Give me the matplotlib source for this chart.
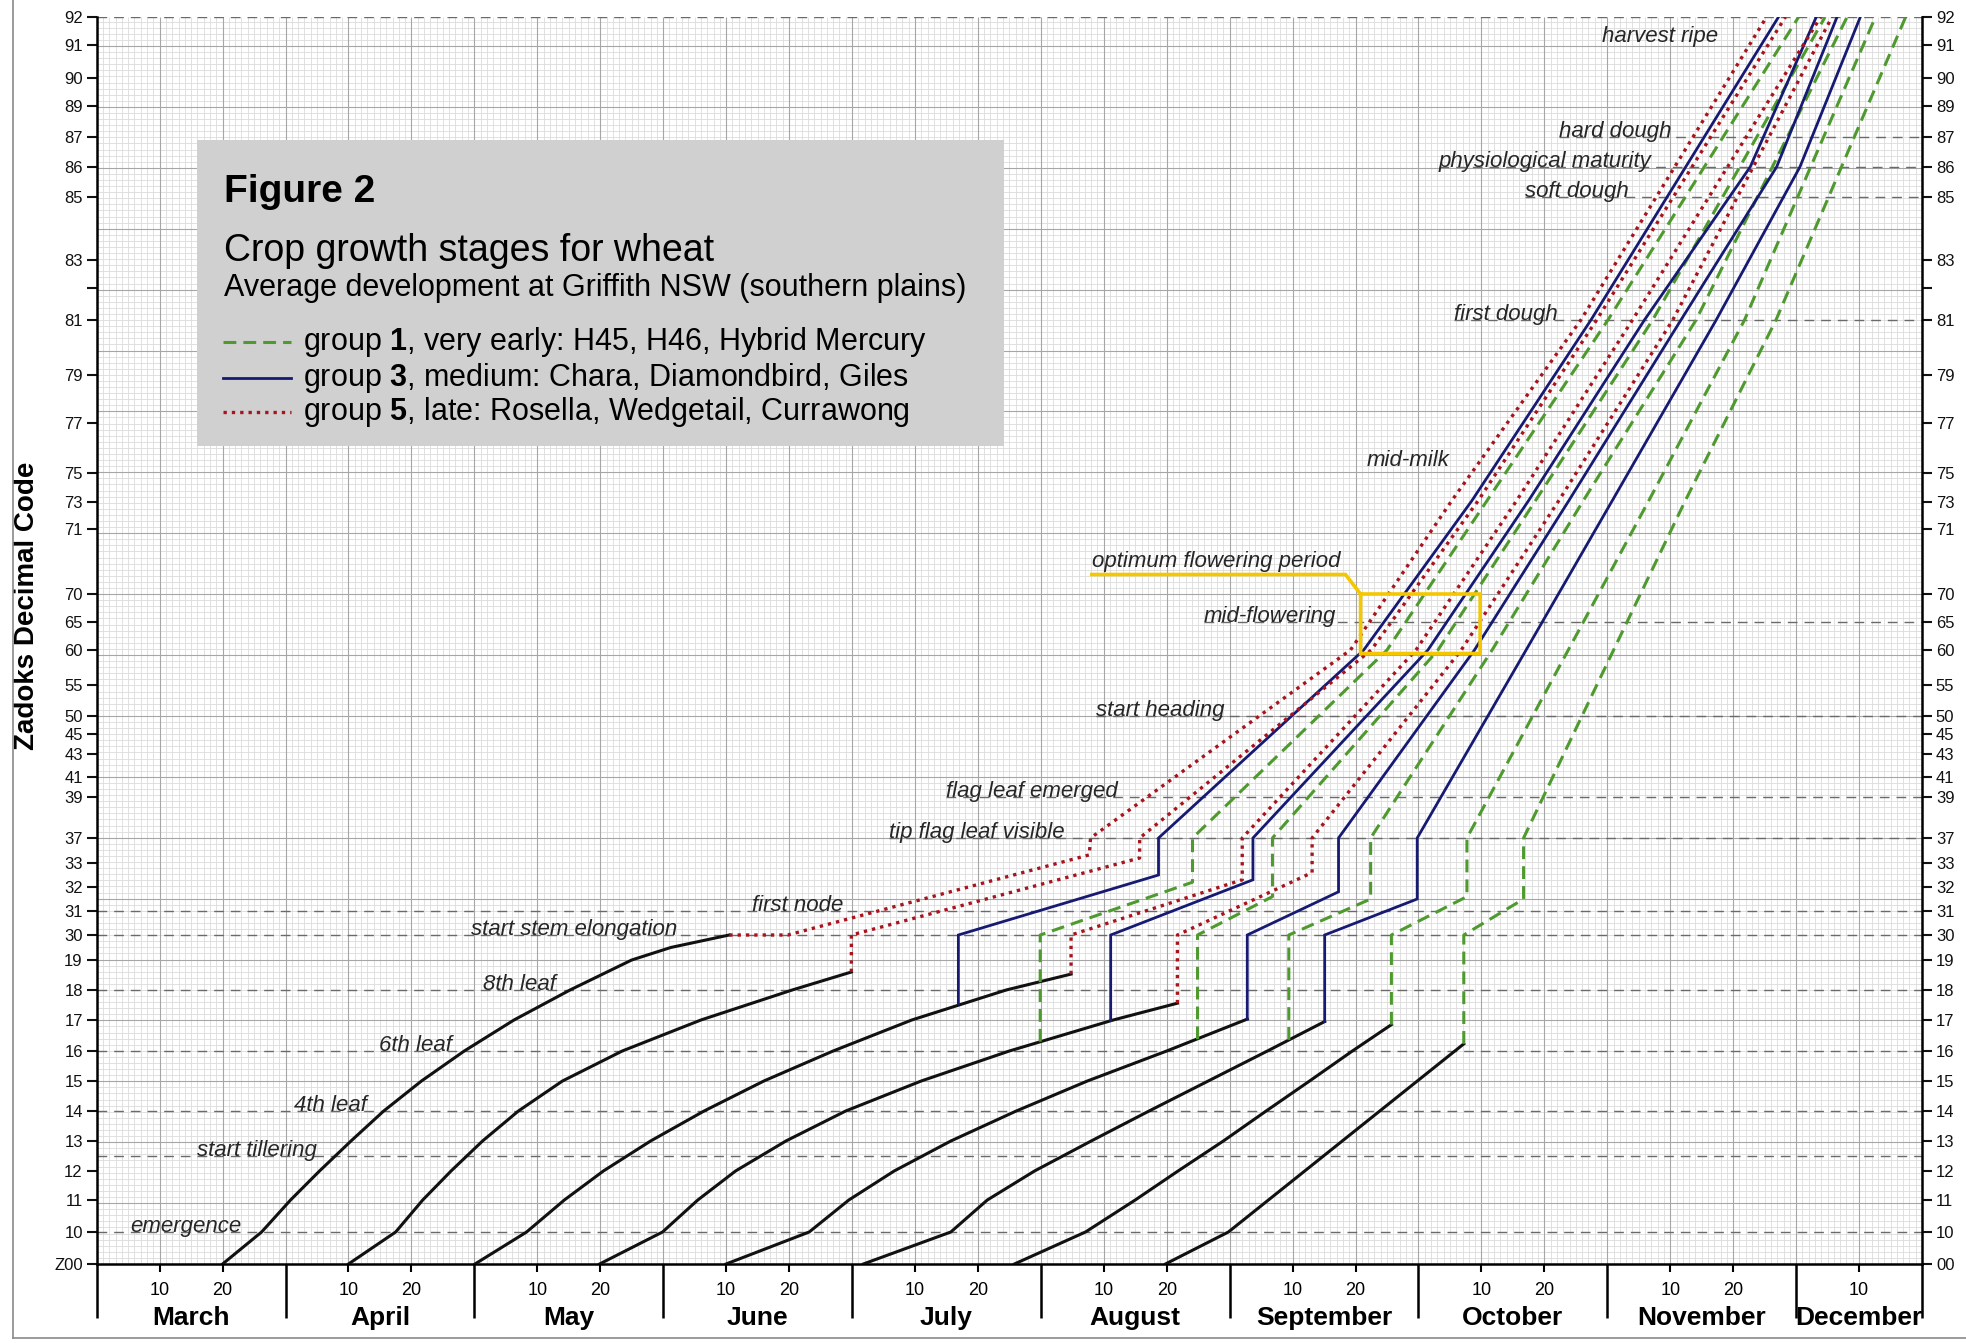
import numpy as np
import matplotlib
matplotlib.use('Agg')
import matplotlib.pyplot as plt
from matplotlib.patches import Rectangle
from matplotlib.lines import Line2D

plt.rcParams['font.family'] = ['Liberation Sans', 'DejaVu Sans']
plt.rcParams['mathtext.fontset'] = 'custom'
plt.rcParams['mathtext.rm'] = 'Liberation Sans'
plt.rcParams['mathtext.bf'] = 'Liberation Sans:bold'

#==============DATA=====================================================
# x = days after 1 March, every month is drawn 30 days wide (as on the paper)
months = ['March', 'April', 'May', 'June', 'July', 'August',
          'September', 'October', 'November', 'December']
season_end = 290   # 20 December

# Zadoks codes on the axis and their height on the graph paper (paper units)
zadoks_ticks = [0, 10, 11, 12, 13, 14, 15, 16, 17, 18, 19, 30, 31, 32, 33, 37, 39, 41, 43, 45,
                50, 55, 60, 65, 70, 71, 73, 75, 77, 79, 81, 82, 83, 85, 86, 87, 89, 90, 91, 92]
zadoks_height = [0, 32, 64, 93, 123, 153, 183, 213, 244, 274, 304, 329, 353, 377, 401, 426, 467,
                 487, 510, 530, 548, 579, 614, 642, 670, 735, 762, 791, 841, 889, 944, 976, 1004,
                 1067, 1097, 1127, 1158, 1186, 1219, 1247]

# growth stages marked with dashed lines
stage_codes = [10, 12.5, 14, 16, 18, 30, 31, 37, 39, 50, 65, 81, 85, 86, 87, 92]
stage_names = ['emergence', 'start tillering', '4th leaf', '6th leaf', '8th leaf',
               'start stem elongation', 'first node', 'tip flag leaf visible',
               'flag leaf emerged', 'start heading', 'mid-flowering', 'first dough',
               'soft dough', 'physiological maturity', 'hard dough', 'harvest ripe']

# vegetative development for each sowing (black)
sow1_x = [20, 26.2, 30.8, 35.4, 40.4, 45.6, 51.6, 58.4, 66.3, 75.2, 85, 91.2, 100.5]
sow1_z = [0, 10, 11, 12, 13, 14, 15, 16, 17, 18, 19, 24.5, 30]
sow2_x = [40, 47.5, 51.8, 56.3, 61.3, 67, 74, 83.5, 96, 110.5, 119.9]
sow2_z = [0, 10, 11, 12, 13, 14, 15, 16, 17, 18, 18.6]
sow3_x = [60.1, 68.3, 74.3, 80.5, 88, 96.5, 106, 117, 129.5, 144.5, 154.8]
sow3_z = [0, 10, 11, 12, 13, 14, 15, 16, 17, 18, 18.53]
sow4_x = [79.9, 89.9, 95.5, 101.5, 109.5, 119, 131, 145, 161.5, 171.7]
sow4_z = [0, 10, 11, 12, 13, 14, 15, 16, 17, 17.56]
sow5_x = [100, 113.2, 119.5, 126.7, 135.7, 146.1, 157.4, 170, 182.8]
sow5_z = [0, 10, 11, 12, 13, 14, 15, 16, 17.03]
sow6_x = [121.8, 135.7, 141.5, 149, 158, 167.2, 176.6, 186, 195.1]
sow6_z = [0, 10, 11, 12, 13, 14, 15, 16, 16.95]
sow7_x = [145.8, 157.1, 165, 171.8, 179, 185.8, 192.7, 199.5, 205.7]
sow7_z = [0, 10, 11, 12, 13, 14, 15, 16, 16.85]
sow8_x = [169.8, 179.8, 217.2]
sow8_z = [0, 10, 16.23]

# group 5, late (red dotted)
red_a_x = [100.5, 109.8, 157.7, 157.9, 199.2, 215.3, 235.8, 265.3]
red_a_z = [30, 30, 34.3, 37, 60, 73.1, 81, 92]
red_b_x = [119.9, 119.9, 165.7, 165.7, 202.5, 219.5, 238.3, 268.3]
red_b_z = [18.6, 30, 33.8, 37, 60, 73.1, 81, 92]
red_c_x = [154.8, 154.8, 182.0, 182.0, 209.6, 225.6, 244.0, 273.9]
red_c_z = [18.53, 30, 32.3, 37, 60, 73.1, 81, 92]
red_d_x = [171.7, 171.7, 193.1, 193.1, 216.8, 232.3, 250.4, 275.7]
red_d_z = [17.56, 30, 32.6, 37, 60, 73.1, 81, 92]

# group 3, medium (blue)
blue_a_x = [136.9, 136.9, 168.7, 168.7, 201.3, 218.5, 237.4, 267.2]
blue_a_z = [17.55, 30, 32.5, 37, 60, 73.1, 81, 92]
blue_b_x = [161.1, 161.1, 183.7, 183.7, 211.5, 227.5, 245.9, 262.7, 273.2]
blue_b_z = [16.98, 30, 32.3, 37, 60, 73.1, 81, 86, 92]
blue_c_x = [182.8, 182.8, 197.3, 197.3, 218.9, 233.9, 251.7, 266.9, 276.5]
blue_c_z = [17.03, 30, 31.8, 37, 60, 73.1, 81, 86, 92]
blue_d_x = [195.1, 195.1, 209.8, 209.8, 227.1, 240.8, 257.3, 270.6, 280.2]
blue_d_z = [16.95, 30, 31.5, 37, 60, 73.1, 81, 86, 92]

# group 1, very early (green dashed)
green_a_x = [149.9, 149.9, 174.1, 174.1, 205.0, 220.9, 240.1, 270.4]
green_a_z = [16.3, 30, 32.2, 37, 60, 73.1, 81, 92]
green_b_x = [174.9, 174.9, 186.8, 186.8, 213.1, 228.6, 247.2, 274.6]
green_b_z = [16.38, 30, 31.6, 37, 60, 73.1, 81, 92]
green_c_x = [189.4, 189.4, 202.4, 202.4, 221.7, 236.2, 254.1, 278.1]
green_c_z = [16.36, 30, 31.5, 37, 60, 73.1, 81, 92]
green_d_x = [205.7, 205.7, 217.7, 217.7, 233.8, 246.6, 261.8, 282.6]
green_d_z = [16.85, 30, 31.6, 37, 60, 73.1, 81, 92]
green_e_x = [217.2, 217.2, 226.7, 226.7, 241.0, 252.4, 266.8, 287.4]
green_e_z = [16.23, 30, 31.5, 37, 60, 73.1, 81, 92]

# optimum flowering period box
flower_x = [158.1, 198.4, 200.8, 219.8, 219.8, 200.8, 200.8]
flower_z = [70.3, 70.3, 70, 70, 59.5, 59.5, 70]

#==============STYLES=======================================================
c_black = '#111111'
c_blue = '#161a72'
c_green = '#4f9a2f'
c_red = '#a8141e'
c_grid_min = '#dcdcdc'
c_grid_maj = '#a6a6a6'
c_stage = '#6a6a6a'
c_text = '#262626'


def to_height(z):
    return np.interp(z, zadoks_ticks, zadoks_height)


def to_code(h):
    return np.interp(h, zadoks_height, zadoks_ticks)


#==============FIGURE=======================================================
W, H = 1966, 1343
fig = plt.figure(figsize=(W / 100, H / 100), dpi=100)
fig.patch.set_facecolor('white')
ax = fig.add_axes([96.7 / W, 1 - 1264 / H, (1922 - 96.7) / W, (1264 - 17) / H])
ax.set_yscale('function', functions=(to_height, to_code))
ax.set_xlim(0, season_end)
ax.set_ylim(0, 92)

# graph paper
days = np.arange(0, season_end + 1)
ax.vlines(days[days % 10 != 0], 0, 92, color=c_grid_min, lw=0.6, zorder=0.5)
ax.vlines(days[days % 10 == 0], 0, 92, color=c_grid_maj, lw=0.8, zorder=0.6)
paper = np.arange(0, 1248, 6.09)
ax.hlines(to_code(paper), 0, season_end, color=c_grid_min, lw=0.6, zorder=0.5)
ax.hlines(to_code(paper[::10]), 0, season_end, color=c_grid_maj, lw=0.8, zorder=0.6)

# stage lines and labels
label_x = [5.3, 15.9, 31.4, 44.8, 61.3, 59.5, 104.1, 125.8, 134.9, 158.7, 175.9,
           215.6, 227.0, 213.2, 232.3, 239.1]
for code, name, lx in zip(stage_codes, stage_names, label_x):
    start = 0 if code <= 31 or code == 92 else lx
    ax.hlines(code, start, season_end, color=c_stage, lw=1.0,
              linestyles=(0, (7, 5)), zorder=1)
    ty = 91.1 if code == 92 else code
    ax.text(lx, ty, name, fontsize=16, style='italic', color=c_text,
            ha='left', va='baseline', zorder=2)
ax.text(158.1, 70.42, 'optimum flowering period', fontsize=16, style='italic',
        color=c_text, ha='left', va='baseline', zorder=2)
ax.text(201.8, 75.3, 'mid-milk', fontsize=16, style='italic', color=c_text,
        ha='left', va='baseline', zorder=2)

# sowing curves
for x, z in [(sow1_x, sow1_z), (sow2_x, sow2_z), (sow3_x, sow3_z), (sow4_x, sow4_z),
             (sow5_x, sow5_z), (sow6_x, sow6_z), (sow7_x, sow7_z), (sow8_x, sow8_z)]:
    ax.plot(x, z, color=c_black, lw=2.2, zorder=4, solid_joinstyle='round')

for x, z in [(green_a_x, green_a_z), (green_b_x, green_b_z), (green_c_x, green_c_z),
             (green_d_x, green_d_z), (green_e_x, green_e_z)]:
    ax.plot(x, z, color=c_green, lw=2.2, ls=(0, (4.2, 2.3)), zorder=5)
for x, z in [(blue_a_x, blue_a_z), (blue_b_x, blue_b_z), (blue_c_x, blue_c_z),
             (blue_d_x, blue_d_z)]:
    ax.plot(x, z, color=c_blue, lw=2.0, zorder=5, solid_joinstyle='miter')
for x, z in [(red_a_x, red_a_z), (red_b_x, red_b_z), (red_c_x, red_c_z),
             (red_d_x, red_d_z)]:
    ax.plot(x, z, color=c_red, lw=2.4, ls=(0, (1, 1.5)), zorder=6)

ax.plot(flower_x, flower_z, color='#f4c700', lw=2.6, zorder=7, solid_joinstyle='miter')

#==============AXES=========================================================
left_labels = ['Z00' if t == 0 else ('' if t == 82 else str(t)) for t in zadoks_ticks]
right_labels = ['00' if t == 0 else ('' if t == 82 else str(t)) for t in zadoks_ticks]
ax.set_yticks(zadoks_ticks, left_labels)
ax.yaxis.set_minor_locator(matplotlib.ticker.NullLocator())
ax.tick_params(axis='y', which='major', direction='out', length=7, width=1.5,
               labelsize=12, pad=3, colors='#111111')

axr = ax.twinx()
axr.set_yscale('function', functions=(to_height, to_code))
axr.set_ylim(0, 92)
axr.set_yticks(zadoks_ticks, right_labels)
axr.yaxis.set_minor_locator(matplotlib.ticker.NullLocator())
axr.tick_params(axis='y', which='major', direction='out', length=7, width=1.5,
                labelsize=12, pad=3, colors='#111111')
for s in ['left', 'top', 'bottom']:
    axr.spines[s].set_visible(False)
axr.spines['right'].set_linewidth(1.8)

month_edges = [30 * i for i in range(len(months))] + [season_end]
ax.set_xticks(month_edges, [''] * len(month_edges))
mid = [30 * i + d for i in range(len(months)) for d in (10, 20) if 30 * i + d < season_end]
ax.set_xticks(mid, ['10' if m % 30 == 10 else '20' for m in mid], minor=True)
ax.tick_params(axis='x', which='major', direction='out', length=39, width=1.8)
ax.tick_params(axis='x', which='minor', direction='out', length=6, width=1.5,
               labelsize=13, pad=7)
for i, name in enumerate(months):
    cx = 30 * i + 15 if i < len(months) - 1 else (30 * i + season_end) / 2
    ax.text(cx, -0.0433, name, transform=ax.get_xaxis_transform(), fontsize=19,
            fontweight='bold', ha='center', va='center')

ax.spines['top'].set_visible(False)
ax.spines['right'].set_visible(False)
ax.spines['left'].set_linewidth(1.8)
ax.spines['bottom'].set_linewidth(1.8)

ax.set_ylabel('Zadoks Decimal Code', fontsize=20, fontweight='bold')
ax.yaxis.set_label_coords(-0.031, 0.528)

#==============LEGEND BOX===================================================
def fx(px):
    return px / W


def fy(py):
    return 1 - py / H


fig.add_artist(Rectangle((fx(197), fy(446)), fx(1004) - fx(197), fy(140) - fy(446),
                         transform=fig.transFigure, facecolor='#d0d0d0',
                         edgecolor='none', zorder=1))
fig.text(fx(224), fy(192), 'Figure 2', fontsize=28, fontweight='bold', va='center', zorder=3)
fig.text(fx(224), fy(251), 'Crop growth stages for wheat', fontsize=27, va='center', zorder=3)
fig.text(fx(224), fy(288), 'Average development at Griffith NSW (southern plains)',
         fontsize=22, va='center', zorder=3)
legend_rows = [(342, c_green, (0, (4.2, 2.3)), 2.2,
                r'group $\mathbf{1}$, very early: H45, H46, Hybrid Mercury'),
               (378, c_blue, '-', 2.0,
                r'group $\mathbf{3}$, medium: Chara, Diamondbird, Giles'),
               (412, c_red, (0, (1, 1.5)), 2.4,
                r'group $\mathbf{5}$, late: Rosella, Wedgetail, Currawong')]
for py, col, ls, lw, txt in legend_rows:
    fig.add_artist(Line2D([fx(223), fx(291)], [fy(py), fy(py)], color=col, ls=ls, lw=lw,
                          transform=fig.transFigure, zorder=2))
    fig.text(fx(303), fy(py), txt, fontsize=22, va='center', zorder=3)

# outer frame
fig.add_artist(Line2D([fx(13), fx(13)], [fy(0), fy(1338)], color='#8a8a8a', lw=1.2,
                      transform=fig.transFigure))
fig.add_artist(Line2D([fx(13), fx(1966)], [fy(1338), fy(1338)], color='#8a8a8a', lw=1.2,
                      transform=fig.transFigure))

fig.savefig('out.png', dpi=100)
